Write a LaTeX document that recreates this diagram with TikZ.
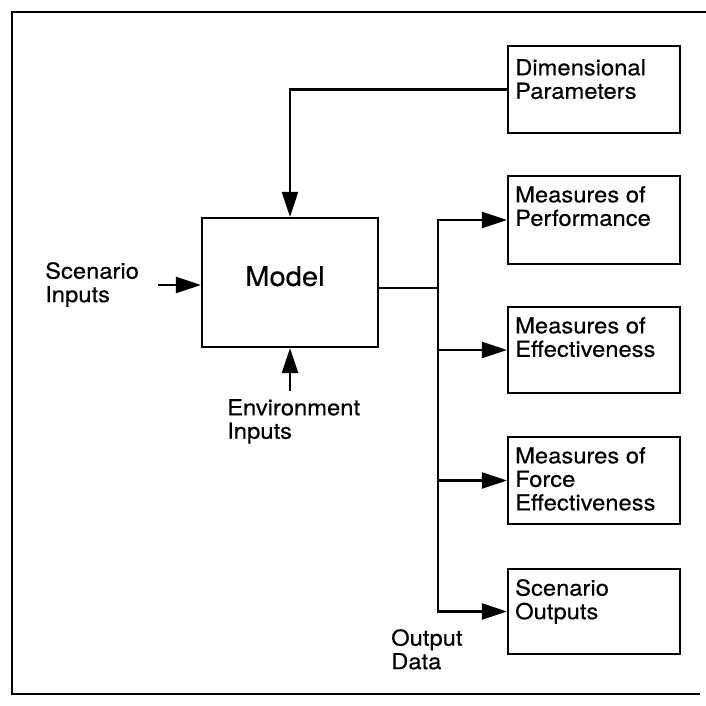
\documentclass[tikz,border=0pt]{standalone}
\usepackage{fontspec}
\setmainfont{TeX Gyre Heros}[FakeStretch=1.08,FakeBold=0.4]
\usetikzlibrary{arrows.meta}
\begin{document}
\begin{tikzpicture}[x=1pt,y=-1pt,
  box/.style={draw, line width=2.2pt, inner sep=0pt, minimum width=172pt},
  lbl/.style={anchor=north west, inner sep=0pt, align=left, font=\fontsize{22}{23.5}\selectfont},
  conn/.style={line width=2.4pt},
  arrow/.style={conn, -{Triangle[length=25pt,width=16pt]}},
  frameline/.style={line width=2pt}]
\useasboundingbox (0,0) rectangle (706,706);
% frame
\coordinate (fbl) at (12,694);
\coordinate (ftl) at (12,12);
\coordinate (ftr) at (706,12);
\coordinate (fbr) at (700,694);
\draw[frameline] (fbr) -- (fbl) -- (ftl) -- (ftr);
% boxes
\node[box, minimum height=87pt] (dim) at (594,89.5) {};
\node[lbl] (dimtxt) at (515,59) {Dimensional\\Parameters};
\node[box, minimum width=176pt, minimum height=129pt] (model) at (290,282.5) {};
\node[anchor=north west, inner sep=0pt, font=\fontsize{27}{30}\selectfont] (modeltxt) at (245,266) {Model};
\node[box, minimum height=88pt] (perf) at (594,220) {};
\node[lbl] (perftxt) at (515,186) {Measures of\\Performance};
\node[box, minimum height=86pt] (eff) at (594,350) {};
\node[lbl] (efftxt) at (515,317) {Measures of\\Effectiveness};
\node[box, minimum height=87pt] (force) at (594,480.5) {};
\node[lbl] (forcetxt) at (515,447) {Measures of\\Force\\Effectiveness};
\node[box, minimum height=85pt] (scen) at (594,611.5) {};
\node[lbl] (scentxt) at (515,579) {Scenario\\Outputs};
% free labels
\node[lbl] (scin) at (45,262) {Scenario\\Inputs};
\node[lbl] (envin) at (227,399) {Environment\\Inputs};
\node[lbl] (outdata) at (391,629) {Output\\Data};
% connectors
\draw[arrow] (dim.west) -| (model.north);
\coordinate (scinstart) at (158,285);
\draw[arrow] (scinstart) -- (scinstart -| model.west);
\coordinate (envstart) at (290,391);
\draw[arrow] (envstart) -- (model.south);
\coordinate (bus) at (438,288);
\draw[conn] (model.east |- bus) -- (bus);
\draw[arrow] (bus) |- (perf.west);
\draw[arrow] (bus) |- (scen.west);
\draw[arrow] (eff.west -| bus) -- (eff.west);
\draw[arrow] (force.west -| bus) -- (force.west);
\end{tikzpicture}
\end{document}
